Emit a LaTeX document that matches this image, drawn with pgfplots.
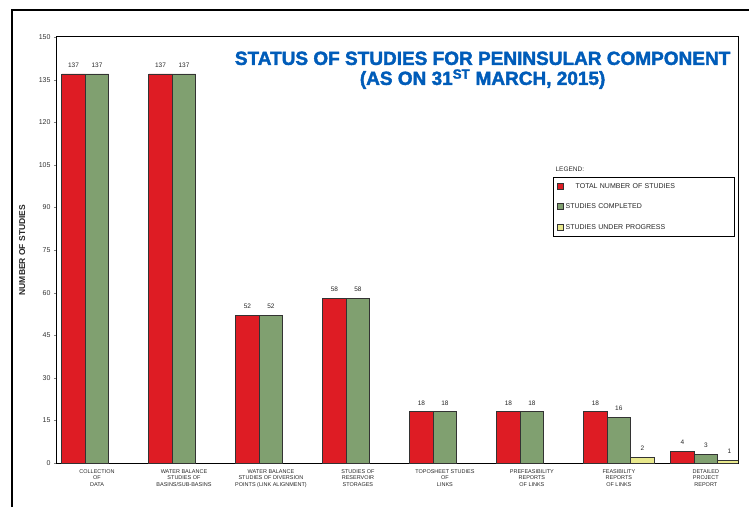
\documentclass[border=0pt]{standalone}
\usepackage{pgfplots}
\pgfplotsset{compat=1.18}
\usepackage{fontspec}
\setmainfont{Liberation Sans}
\newfontfamily\titlefont[FakeBold=2]{Liberation Sans Bold}
\definecolor{barred}{RGB}{222,28,36}
\definecolor{bargreen}{RGB}{128,160,112}
\definecolor{baryellow}{RGB}{232,232,140}
\definecolor{titleblue}{RGB}{0,92,185}
\begin{document}
\begin{tikzpicture}
\useasboundingbox (-57pt,-44pt) rectangle (692pt,463pt);
\draw[line width=1.5pt] (-45pt,-44pt) -- (-45pt,453pt) -- (692pt,453pt);
\begin{axis}[
  at={(0pt,0pt)}, anchor=south west,
  scale only axis, width=681pt, height=426pt,
  xmin=-0.46, xmax=7.37, ymin=0, ymax=150,
  ybar=0pt,
  ytick={0,15,...,150},
  xtick={0,...,7},
  xticklabels={{COLLECTION\\OF\\DATA},{WATER BALANCE\\STUDIES OF\\BASINS/SUB-BASINS},{WATER BALANCE\\STUDIES OF DIVERSION\\POINTS (LINK ALIGNMENT)},{STUDIES OF\\RESERVOIR\\STORAGES},{TOPOSHEET STUDIES\\OF\\LINKS},{PREFEASIBILITY\\REPORTS\\OF LINKS},{FEASIBILITY\\REPORTS\\OF LINKS},{DETAILED\\PROJECT\\REPORT}},
  xticklabel style={align=center, font=\fontsize{5.5}{6.5}\selectfont, text=black!85},
  yticklabel style={font=\fontsize{7}{8}\selectfont, text=black!80},
  /pgf/number format/assume math mode=true,
  major x tick style={draw=none},
  ytick pos=left, tick align=outside, major tick length=3pt,
  axis line style={line width=1pt},
  ylabel={NUMBER OF STUDIES},
  ylabel style={at={(axis description cs:-0.051,0.5)}, anchor=center, font=\fontsize{8.5}{9}\selectfont\bfseries, text=black!85},
  nodes near coords,
  every node near coord/.append style={font=\fontsize{6.5}{7}\selectfont, text=black!85, yshift=3pt},
  legend style={at={(0.728,0.671)}, anchor=north west, draw=black, line width=0.6pt,
    font=\fontsize{7}{8}\selectfont, text=black!85, row sep=10pt, inner sep=4pt, text width=163pt},
  legend cell align=left,
  legend image code/.code={\draw[#1, line width=0.6pt] (0pt,-2.5pt) rectangle (6pt,3.5pt);},
]
\addplot[bar width=0.27, bar shift=-0.27, fill=barred, draw=black!80, line width=0.8pt]
  coordinates {(0,137) (1,137) (2,52) (3,58) (4,18) (5,18) (6,18) (7,4)};
\addplot[bar width=0.27, bar shift=0, fill=bargreen, draw=black!80, line width=0.8pt]
  coordinates {(0,137) (1,137) (2,52) (3,58) (4,18) (5,18) (6,16) (7,3)};
\addplot[bar width=0.27, bar shift=0.27, fill=baryellow, draw=black!80, line width=0.8pt]
  coordinates {(6,2) (7,1)};
\legend{\hspace{10pt}TOTAL NUMBER OF STUDIES, STUDIES COMPLETED, STUDIES UNDER PROGRESS}
\node[anchor=south west, font=\fontsize{6.5}{7}\selectfont, text=black!85] at (rel axis cs:0.727,0.675) {LEGEND:};
\node[align=center, font=\fontsize{19}{20}\selectfont\titlefont, text=titleblue] at (rel axis cs:0.625,0.922)
  {STATUS OF STUDIES FOR PENINSULAR COMPONENT\\(AS ON 31\textsuperscript{ST} MARCH, 2015)};
\end{axis}
\end{tikzpicture}
\end{document}
